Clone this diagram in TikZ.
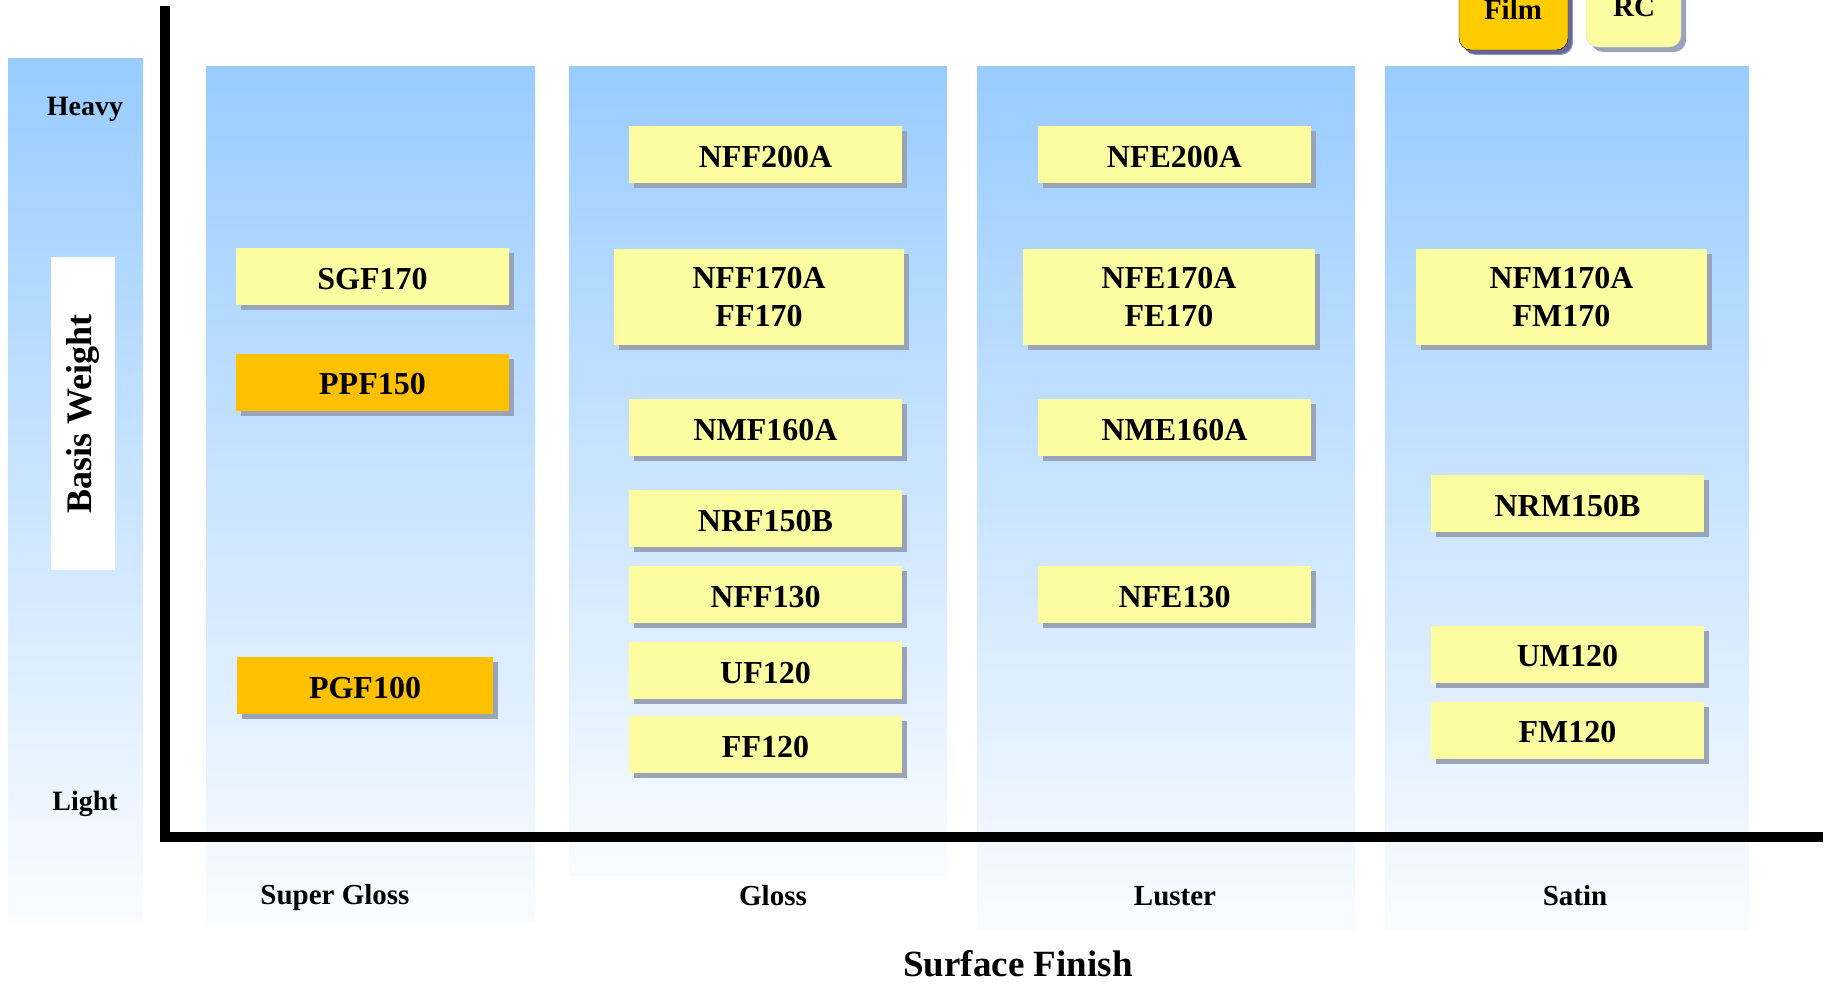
\documentclass[tikz,border=0pt]{standalone}
\usepackage{fontspec}
\setmainfont{Liberation Serif}
\usetikzlibrary{shadows}

\definecolor{bluetop}{HTML}{99CCFF}
\definecolor{bluebot}{HTML}{FAFCFF}
\definecolor{paleyellow}{HTML}{FCFCA0}
\definecolor{amber}{HTML}{FFC000}
\definecolor{filmgold}{HTML}{FFCC00}
\definecolor{shadowgrey}{HTML}{9AA4B8}

\tikzset{
  slip/.style={fill=paleyellow,inner sep=0pt,align=center,
    font=\fontsize{32}{38}\selectfont\bfseries,
    drop shadow={shadow xshift=5pt,shadow yshift=-5pt,fill=shadowgrey,opacity=1}},
  grade/.style={slip,minimum width=273pt,minimum height=57pt,text height=25pt,text depth=0pt},
  pearl/.style={grade,fill=amber},
  twoline/.style={slip,minimum width=290pt,minimum height=96pt},
  keybox/.style={slip,rounded corners=12pt},
  band/.style={top color=bluetop,bottom color=bluebot},
  axislabel/.style={font=\fontsize{29}{34}\selectfont\bfseries},
}

\begin{document}
\begin{tikzpicture}[x=1pt,y=-1pt]
    \useasboundingbox (0,0) rectangle (1829,983);

    \shade[band] (8,58) rectangle (143,920);
    \shade[band] (206,66) rectangle (535,922);
    \shade[band] (569,66) rectangle (947,875);
    \shade[band] (977,66) rectangle (1355,930);
    \shade[band] (1385,66) rectangle (1749,930);

    \fill[white] (51,257) rectangle (115,570);

    \coordinate (top) at (165,6);
    \coordinate (orig) at (165,837);
    \coordinate (right) at (1823,837);
    \draw[line width=10pt] (top) -- (orig) -- (right);

    % legend
    \draw[keybox,fill=filmgold,drop shadow={shadow xshift=4pt,shadow yshift=-4pt,fill=gray!80!blue,opacity=1}]
      (1459,-20) rectangle (1568,50);
    \draw[keybox,draw=blue!15] (1586,-20) rectangle (1681,47);
    \node (film) [axislabel] at (1513,9) {Film};
    \node (rc) [axislabel] at (1634,7) {RC};

    % weight axis
    \node (heavy) [axislabel,font=\fontsize{28}{34}\selectfont\bfseries] at (85,109) {Heavy};
    \node (light) [axislabel,font=\fontsize{28}{34}\selectfont\bfseries] at (85,804) {Light};
    \node (weight) [rotate=90,font=\fontsize{36}{40}\selectfont\bfseries] at (83,414) {Basis Weight};

    % finish axis
    \node (sgloss) [axislabel] at (335,898) {Super Gloss};
    \node (gloss) [axislabel] at (773,896) {Gloss};
    \node (luster) [axislabel] at (1175,896) {Luster};
    \node (satin) [axislabel] at (1575,896) {Satin};
    \node (finish) [font=\fontsize{37}{42}\selectfont\bfseries] at (1018,964) {Surface Finish};

    % super gloss
    \node (SGF170) [grade] at (372.5,276.5) {SGF170};
    \node (PPF150) [pearl] at (372.5,382) {PPF150};
    \node (PGF100) [pearl,minimum width=256pt] at (365,685.5) {PGF100};

    % gloss
    \node (NFF200A) [grade] at (765.5,154.5) {NFF200A};
    \node (NFF170A) [twoline] at (759,297) {NFF170A\\FF170};
    \node (NMF160A) [grade] at (765.5,427.5) {NMF160A};
    \node (NRF150B) [grade] at (765.5,518.5) {NRF150B};
    \node (NFF130) [grade] at (765.5,594.5) {NFF130};
    \node (UF120) [grade] at (765.5,670.5) {UF120};
    \node (FF120) [grade] at (765.5,744.5) {FF120};

    % luster
    \node (NFE200A) [grade] at (1174.5,154.5) {NFE200A};
    \node (NFE170A) [twoline,minimum width=292pt] at (1169,297) {NFE170A\\FE170};
    \node (NME160A) [grade] at (1174.5,427.5) {NME160A};
    \node (NFE130) [grade] at (1174.5,594.5) {NFE130};

    % satin
    \node (NFM170A) [twoline,minimum width=291pt] at (1561.5,297) {NFM170A\\FM170};
    \node (NRM150B) [grade] at (1567.5,503.5) {NRM150B};
    \node (UM120) [grade] at (1567.5,654) {UM120};
    \node (FM120) [grade] at (1567.5,730) {FM120};

  \end{tikzpicture}
\end{document}
